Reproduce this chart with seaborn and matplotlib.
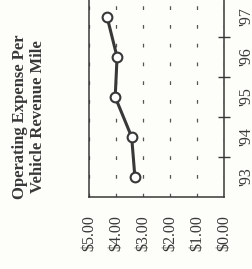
import matplotlib
matplotlib.use("Agg")
import matplotlib.pyplot as plt
import seaborn as sns

years = ["'93", "'94", "'95", "'96", "'97"]
cost = [3.30, 3.42, 4.03, 3.96, 4.33]
dollar_ticks = [0, 1, 2, 3, 4, 5]
dollar_labels = ["$0.00", "$1.00", "$2.00", "$3.00", "$4.00", "$5.00"]
title_text = "Operating Expense Per\nVehicle Revenue Mile"
mode_text = "Bus"

sns.set_style("white")
plt.rcParams['font.family'] = ['Liberation Serif', 'DejaVu Serif']

bg = "#fdfdf9"
ink = "#383838"

fig = plt.figure(figsize=(2.53, 2.69), dpi=100, facecolor=bg)
ax = fig.add_axes([89/253, 72/269, 135/253, 200/269])
ax.set_facecolor(bg)

pos = list(range(len(years)))
sns.lineplot(x=cost, y=pos, sort=False, estimator=None, ax=ax, color=ink,
             linewidth=2.2, marker="o", markersize=7, markerfacecolor="white",
             markeredgecolor=ink, markeredgewidth=1.5)

ax.set_xlim(5, 0)
ax.set_ylim(-0.5, 4.5)

# value axis (drawn horizontal because the page is turned)
ax.set_xticks(dollar_ticks)
ax.set_xticklabels(dollar_labels, rotation=90, fontsize=11.5, color=ink)
ax.tick_params(axis="x", direction="inout", length=8, width=1, color=ink, pad=9)

# year axis on the right
ax.yaxis.tick_right()
ax.set_yticks(pos)
ax.set_yticklabels(years, rotation=90, fontsize=11.5, color=ink, va="center")
ax.set_yticks([p + 0.5 for p in pos], minor=True)
ax.tick_params(axis="y", which="major", length=0, pad=10)
ax.tick_params(axis="y", which="minor", direction="inout", length=8, width=1, color=ink)

for s in ax.spines.values():
    s.set_color(ink)
    s.set_linewidth(1.1)

ax.grid(axis="x", color="#555555", linewidth=0.9, linestyle=(0, (3, 12)))
ax.grid(axis="y", visible=False)
ax.set_xlabel("")
ax.set_ylabel("")

fig.text(29/253, 1 - 117/269, title_text, rotation=90, ha="center", va="center",
         multialignment="center", fontsize=12, fontweight="bold", color=ink,
         linespacing=1.2)
fig.text(-5/253, 1 - 243/269, mode_text, rotation=90, ha="center", va="center",
         fontsize=12, fontweight="bold", color=ink)

fig.savefig("out.png", dpi=100, facecolor=bg)
